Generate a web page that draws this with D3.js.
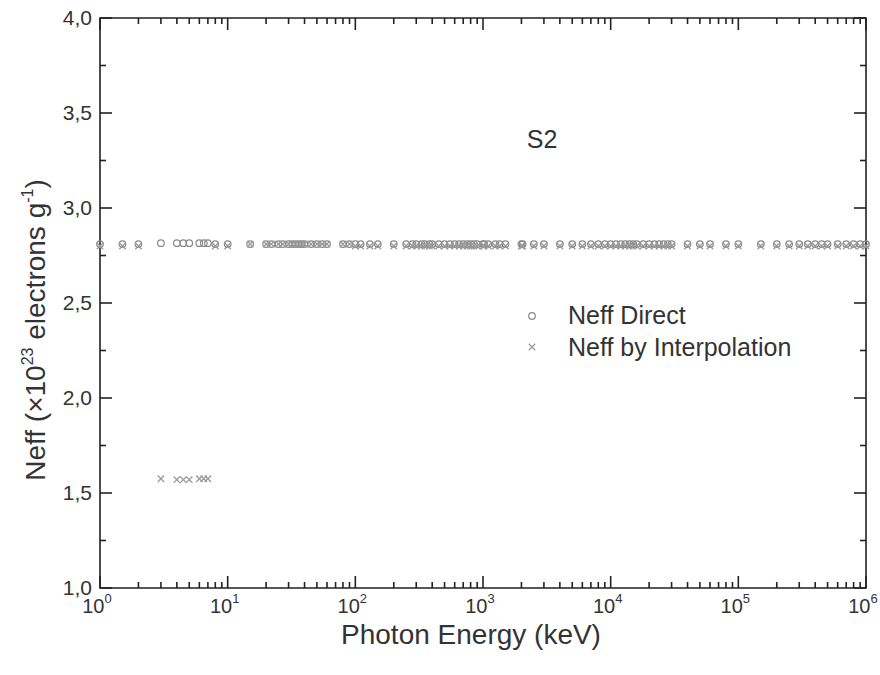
<!DOCTYPE html>
<html>
<head>
<meta charset="utf-8">
<script src="https://cdn.jsdelivr.net/npm/d3@7"></script>
<style>
  html, body { margin: 0; padding: 0; background: #fff; }
  svg { display: block; font-family: "Liberation Sans", Arial, sans-serif; }
</style>
</head>
<body>
<svg id="chart" width="880" height="675"></svg>
<script>
// Photon energies (keV)
const energy = [1, 1.5, 2, 3, 4, 4.5, 5, 6, 6.5, 7, 8, 10, 15, 20, 22, 25, 27, 30, 32, 34, 36, 38, 40, 45, 50, 55, 60,
  80, 90, 100, 110, 130, 150, 200, 250, 280, 300, 330, 350, 380, 400, 450, 500, 550, 600, 650, 700, 750, 800, 850, 900,
  1000, 1022, 1100, 1250, 1350, 1500, 2000, 2044, 2500, 3000, 4000, 5000, 6000, 7000, 8000, 9000, 10000, 11000, 12000,
  13000, 14000, 15000, 16000, 18000, 20000, 22000, 24000, 26000, 28000, 30000, 40000, 50000, 60000, 80000, 100000,
  150000, 200000, 250000, 300000, 350000, 400000, 450000, 500000, 600000, 700000, 800000, 900000, 1000000];

// Neff calculated directly (x10^23 electrons/g)
const neffDirect = [2.81, 2.81, 2.81, 2.815, 2.815, 2.815, 2.815, 2.815, 2.815, 2.815, 2.81, 2.81, 2.81, 2.81, 2.81, 2.81, 2.81, 2.81, 2.81, 2.81, 2.81, 2.81, 2.81, 2.81, 2.81, 2.81, 2.81,
  2.81, 2.81, 2.81, 2.81, 2.81, 2.81, 2.81, 2.81, 2.81, 2.81, 2.81, 2.81, 2.81, 2.81, 2.81, 2.81, 2.81, 2.81, 2.81, 2.81, 2.81, 2.81, 2.81, 2.81,
  2.81, 2.81, 2.81, 2.81, 2.81, 2.81, 2.81, 2.81, 2.81, 2.81, 2.81, 2.81, 2.81, 2.81, 2.81, 2.81, 2.81, 2.81, 2.81,
  2.81, 2.81, 2.81, 2.81, 2.81, 2.81, 2.81, 2.81, 2.81, 2.81, 2.81, 2.81, 2.81, 2.81, 2.81, 2.81,
  2.81, 2.81, 2.81, 2.81, 2.81, 2.81, 2.81, 2.81, 2.81, 2.81, 2.81, 2.81, 2.81];

// Neff obtained by interpolation (x10^23 electrons/g)
const neffInterp = [2.80, 2.80, 2.80, 1.575, 1.57, 1.57, 1.57, 1.575, 1.575, 1.575, 2.80, 2.80, 2.81, 2.81, 2.81, 2.81, 2.81, 2.81, 2.81, 2.81, 2.81, 2.81, 2.81, 2.81, 2.81, 2.81, 2.81,
  2.81, 2.81, 2.80, 2.80, 2.80, 2.80, 2.80, 2.80, 2.80, 2.80, 2.80, 2.80, 2.80, 2.80, 2.80, 2.80, 2.80, 2.80, 2.80, 2.80, 2.80, 2.80, 2.80, 2.80,
  2.80, 2.80, 2.80, 2.80, 2.80, 2.80, 2.80, 2.80, 2.80, 2.80, 2.80, 2.80, 2.80, 2.80, 2.80, 2.80, 2.80, 2.80, 2.80,
  2.80, 2.80, 2.80, 2.80, 2.80, 2.80, 2.80, 2.80, 2.80, 2.80, 2.80, 2.80, 2.80, 2.80, 2.80, 2.80,
  2.80, 2.80, 2.80, 2.80, 2.80, 2.80, 2.80, 2.80, 2.80, 2.80, 2.80, 2.80, 2.80];

const xDecades = [0, 1, 2, 3, 4, 5, 6];
const yMajorTicks = [1.0, 1.5, 2.0, 2.5, 3.0, 3.5, 4.0];
const yMinorTicks = [1.25, 1.75, 2.25, 2.75, 3.25, 3.75];
const seriesLabels = ["Neff Direct", "Neff by Interpolation"];
const sampleLabel = "S2";

const plot = { left: 100, right: 866, top: 18, bottom: 588 };
const svg = d3.select("#chart");

const x = d3.scaleLog().domain([1, 1e6]).range([plot.left, plot.right]);
const y = d3.scaleLinear().domain([1, 4]).range([plot.bottom, plot.top]);

const majorX = xDecades.map(d => Math.pow(10, d));
const minorX = [];
xDecades.slice(0, -1).forEach(d => { for (let m = 2; m <= 9; m++) minorX.push(m * Math.pow(10, d)); });

const axisColor = "#222";
const majorLen = 12, minorLen = 6;

// Frame around the plotting area
svg.append("path")
  .attr("d", `M${plot.left},${plot.top}H${plot.right}V${plot.bottom}H${plot.left}Z`)
  .attr("fill", "none").attr("stroke", axisColor).attr("stroke-width", 1.6);

// Inward tick marks on all four sides
const tickG = svg.append("g").attr("class", "tickmarks");
function xTick(v, len) {
  const px = x(v);
  tickG.append("path").attr("d", `M${px},${plot.bottom}V${plot.bottom - len}`);
  tickG.append("path").attr("d", `M${px},${plot.top}V${plot.top + len}`);
}
function yTick(v, len) {
  const py = y(v);
  tickG.append("path").attr("d", `M${plot.left},${py}H${plot.left + len}`);
  tickG.append("path").attr("d", `M${plot.right},${py}H${plot.right - len}`);
}
minorX.forEach(v => xTick(v, minorLen));
majorX.forEach(v => xTick(v, majorLen));
yMinorTicks.forEach(v => yTick(v, minorLen));
yMajorTicks.forEach(v => yTick(v, majorLen));
tickG.selectAll("path")
  .style("fill", "none").style("stroke", axisColor).style("stroke-width", "1.6px");

// X tick labels: 10^n
svg.append("g").selectAll("text").data(majorX).join("text")
  .attr("x", d => x(d) - 3).attr("y", 613).attr("text-anchor", "middle")
  .attr("fill", "#333").style("font-size", "20px")
  .each(function (d) {
    const t = d3.select(this);
    t.append("tspan").text("10");
    t.append("tspan").attr("dy", -10).style("font-size", "13px").text(Math.round(Math.log10(d)));
  });

// Y tick labels with decimal comma
const commaFmt = d => d3.format(".1f")(d).replace(".", ",");
svg.append("g").selectAll("text").data(yMajorTicks).join("text")
  .attr("x", plot.left - 8).attr("y", d => y(d) + 7).attr("text-anchor", "end")
  .attr("fill", "#333").style("font-size", "21px").text(commaFmt);

// Axis titles
svg.append("text")
  .attr("x", 471).attr("y", 644)
  .attr("text-anchor", "middle").attr("fill", "#333").style("font-size", "28px")
  .text("Photon Energy (keV)");

const yTitle = svg.append("text")
  .attr("transform", "translate(45,330) rotate(-90)")
  .attr("text-anchor", "middle").attr("fill", "#333").style("font-size", "28px");
yTitle.append("tspan").text("Neff (×10");
yTitle.append("tspan").attr("dy", -12).style("font-size", "16px").text("23");
yTitle.append("tspan").attr("dy", 12).text(" electrons g");
yTitle.append("tspan").attr("dy", -12).style("font-size", "16px").text("-1");
yTitle.append("tspan").attr("dy", 12).text(")");

// Data: circles (direct) and crosses (interpolation)
const direct = energy.map((e, i) => ({ e, v: neffDirect[i] }));
const interp = energy.map((e, i) => ({ e, v: neffInterp[i] }));

const markColor = "#8a8a8a";
const crossColor = "#9a9a9a";
svg.append("g").selectAll("circle").data(direct).join("circle")
  .attr("cx", d => x(d.e)).attr("cy", d => y(d.v)).attr("r", 3.3)
  .attr("fill", "none").attr("stroke", markColor).attr("stroke-width", 1.2);

const cs = 3.2;
const crossPath = (cx, cy) =>
  `M${cx - cs},${cy - cs}L${cx + cs},${cy + cs}M${cx - cs},${cy + cs}L${cx + cs},${cy - cs}`;
svg.append("g").selectAll("path").data(interp).join("path")
  .attr("d", d => crossPath(x(d.e), y(d.v)))
  .attr("stroke", crossColor).attr("stroke-width", 1.3).attr("fill", "none");

// Sample label
svg.append("text").attr("x", 542).attr("y", 148).attr("text-anchor", "middle")
  .attr("fill", "#333").style("font-size", "25px").text(sampleLabel);

// Legend
const legend = svg.append("g").attr("transform", "translate(532,316)");
legend.append("circle").attr("cx", 0).attr("cy", 0).attr("r", 3.3)
  .attr("fill", "none").attr("stroke", markColor).attr("stroke-width", 1.2);
legend.append("path").attr("d", crossPath(0, 31))
  .attr("stroke", crossColor).attr("stroke-width", 1.3);
legend.selectAll("text").data(seriesLabels).join("text")
  .attr("x", 36).attr("y", (d, i) => 8 + i * 32)
  .attr("fill", "#333").style("font-size", "25px").text(d => d);
</script>
</body>
</html>
